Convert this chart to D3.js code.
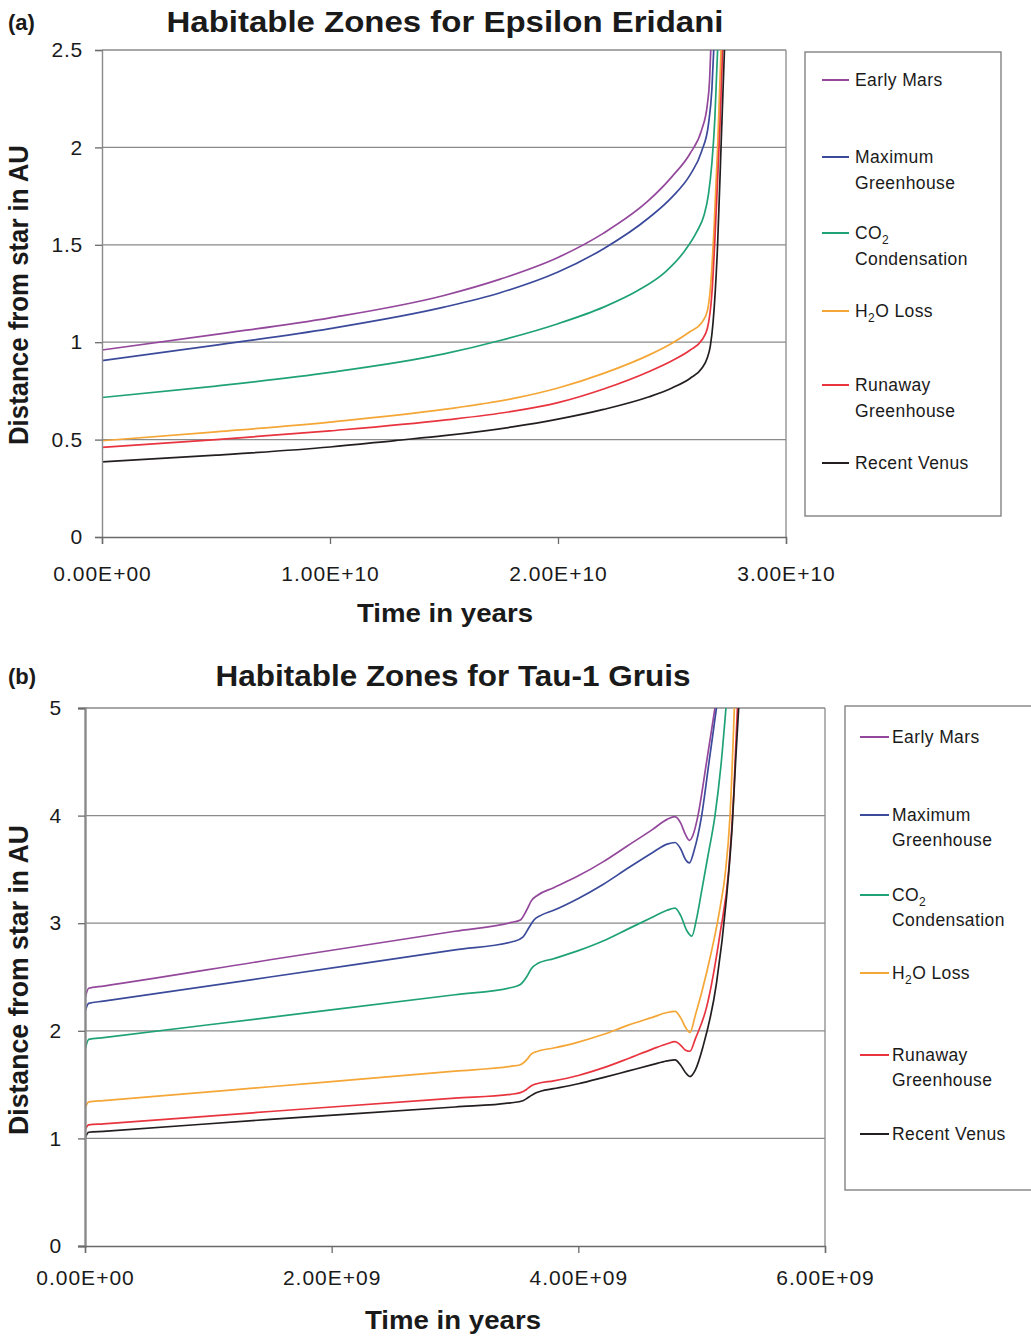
<!DOCTYPE html>
<html>
<head>
<meta charset="utf-8">
<script src="https://cdn.jsdelivr.net/npm/d3@7"></script>
<style>
  html, body { margin: 0; padding: 0; background: #fff; }
  svg { display: block; }
  text { font-family: "Liberation Sans", Arial, Helvetica, sans-serif; fill: #1a1a1a; }
</style>
</head>
<body>
<svg id="chart" width="1031" height="1336"></svg>
<script>
// ---------------- DATA ----------------
const seriesNames = ["Early Mars", "Maximum Greenhouse", "CO2 Condensation", "H2O Loss", "Runaway Greenhouse", "Recent Venus"];
const seriesColors = ["#94489c", "#3c4a9b", "#1fa275", "#f4a636", "#e8343f", "#231f20"];

// Panel (a): Epsilon Eridani  [time in years, distance in AU]
const epsEarlyMars = [[0,0.96],[0.5e10,1.04],[1.0e10,1.125],[1.5e10,1.24],[1.75e10,1.325],[2.0e10,1.435],[2.2e10,1.56],[2.4e10,1.73],[2.5e10,1.85],[2.58e10,1.97],[2.63e10,2.09],[2.655e10,2.22],[2.665e10,2.35],[2.67e10,2.5]];
const epsMaxGreenhouse = [[0,0.905],[0.5e10,0.985],[1.0e10,1.07],[1.5e10,1.18],[1.75e10,1.255],[2.0e10,1.36],[2.2e10,1.48],[2.4e10,1.64],[2.5e10,1.745],[2.58e10,1.86],[2.63e10,1.98],[2.66e10,2.12],[2.675e10,2.3],[2.683e10,2.5]];
const epsCO2 = [[0,0.716],[0.5e10,0.775],[1.0e10,0.845],[1.5e10,0.94],[1.75e10,1.01],[2.0e10,1.095],[2.2e10,1.18],[2.35e10,1.265],[2.47e10,1.36],[2.55e10,1.46],[2.61e10,1.57],[2.64e10,1.65],[2.66e10,1.76],[2.675e10,1.92],[2.688e10,2.15],[2.70e10,2.5]];
const epsH2OLoss = [[0,0.494],[0.5e10,0.54],[1.0e10,0.59],[1.5e10,0.655],[1.8e10,0.71],[2.0e10,0.765],[2.2e10,0.84],[2.4e10,0.935],[2.5e10,0.995],[2.58e10,1.055],[2.63e10,1.10],[2.655e10,1.16],[2.67e10,1.3],[2.685e10,1.6],[2.70e10,2.0],[2.715e10,2.5]];
const epsRunaway = [[0,0.46],[0.5e10,0.50],[1.0e10,0.545],[1.5e10,0.60],[1.8e10,0.645],[2.0e10,0.69],[2.2e10,0.76],[2.4e10,0.85],[2.5e10,0.905],[2.58e10,0.96],[2.63e10,1.01],[2.655e10,1.07],[2.675e10,1.25],[2.695e10,1.7],[2.71e10,2.1],[2.722e10,2.5]];
const epsVenus = [[0,0.386],[0.5e10,0.42],[1.0e10,0.462],[1.285e10,0.495],[1.5e10,0.52],[1.8e10,0.565],[2.0e10,0.605],[2.2e10,0.655],[2.4e10,0.72],[2.5e10,0.765],[2.58e10,0.815],[2.63e10,0.865],[2.655e10,0.92],[2.668e10,0.98],[2.68e10,1.1],[2.70e10,1.5],[2.715e10,2.0],[2.73e10,2.5]];

// Panel (b): Tau-1 Gruis
const tauEarlyMars = [[0,2.30],[0.03e9,2.395],[0.15e9,2.415],[1.5e9,2.66],[3.0e9,2.925],[3.45e9,3.005],[3.53e9,3.03],[3.58e9,3.12],[3.62e9,3.21],[3.67e9,3.26],[3.8e9,3.33],[4.0e9,3.44],[4.2e9,3.57],[4.4e9,3.72],[4.6e9,3.87],[4.72e9,3.965],[4.784e9,3.99],[4.83e9,3.93],[4.87e9,3.82],[4.9e9,3.77],[4.93e9,3.82],[4.97e9,4.0],[5.04e9,4.5],[5.108e9,5.0]];
const tauMaxGreenhouse = [[0,2.18],[0.03e9,2.255],[0.15e9,2.275],[1.5e9,2.50],[3.0e9,2.752],[3.48e9,2.832],[3.55e9,2.87],[3.6e9,2.96],[3.64e9,3.03],[3.7e9,3.075],[3.8e9,3.12],[4.0e9,3.23],[4.2e9,3.36],[4.4e9,3.51],[4.6e9,3.655],[4.72e9,3.735],[4.784e9,3.75],[4.83e9,3.69],[4.87e9,3.59],[4.9e9,3.56],[4.94e9,3.68],[5.0e9,4.0],[5.06e9,4.5],[5.12e9,5.0]];
const tauCO2 = [[0,1.82],[0.03e9,1.92],[0.15e9,1.937],[1.5e9,2.125],[3.0e9,2.335],[3.45e9,2.40],[3.53e9,2.43],[3.58e9,2.50],[3.62e9,2.58],[3.67e9,2.625],[3.8e9,2.67],[4.0e9,2.745],[4.2e9,2.835],[4.4e9,2.945],[4.6e9,3.055],[4.72e9,3.12],[4.784e9,3.14],[4.83e9,3.07],[4.88e9,2.93],[4.92e9,2.88],[4.96e9,3.05],[5.0e9,3.3],[5.05e9,3.62],[5.108e9,4.0],[5.155e9,4.45],[5.197e9,5.0]];
const tauH2OLoss = [[0,1.28],[0.03e9,1.34],[0.15e9,1.351],[1.5e9,1.48],[3.0e9,1.625],[3.45e9,1.67],[3.53e9,1.685],[3.58e9,1.73],[3.62e9,1.785],[3.67e9,1.81],[3.8e9,1.84],[4.0e9,1.895],[4.2e9,1.965],[4.4e9,2.05],[4.6e9,2.125],[4.72e9,2.17],[4.784e9,2.18],[4.83e9,2.12],[4.87e9,2.03],[4.905e9,1.985],[4.95e9,2.15],[5.04e9,2.54],[5.15e9,3.15],[5.19e9,3.45],[5.23e9,4.0],[5.265e9,5.0]];
const tauRunaway = [[0,1.08],[0.03e9,1.125],[0.15e9,1.135],[1.5e9,1.25],[3.0e9,1.375],[3.45e9,1.41],[3.53e9,1.425],[3.58e9,1.455],[3.62e9,1.49],[3.67e9,1.51],[3.8e9,1.535],[4.0e9,1.585],[4.2e9,1.655],[4.4e9,1.74],[4.6e9,1.83],[4.72e9,1.88],[4.784e9,1.90],[4.83e9,1.865],[4.87e9,1.82],[4.905e9,1.81],[4.95e9,1.93],[5.04e9,2.22],[5.15e9,2.91],[5.22e9,3.5],[5.26e9,4.2],[5.29e9,5.0]];
const tauVenus = [[0,1.0],[0.03e9,1.057],[0.15e9,1.066],[1.5e9,1.177],[3.0e9,1.292],[3.45e9,1.33],[3.55e9,1.35],[3.6e9,1.385],[3.65e9,1.42],[3.7e9,1.44],[3.8e9,1.462],[4.0e9,1.508],[4.2e9,1.565],[4.4e9,1.625],[4.6e9,1.685],[4.72e9,1.72],[4.784e9,1.73],[4.83e9,1.68],[4.87e9,1.61],[4.905e9,1.575],[4.95e9,1.64],[5.01e9,1.85],[5.12e9,2.44],[5.20e9,3.22],[5.25e9,3.95],[5.275e9,4.5],[5.30e9,5.0]];

// Tick values and labels
const epsXTicks = [0, 1e10, 2e10, 3e10];
const epsXTickLabels = ["0.00E+00", "1.00E+10", "2.00E+10", "3.00E+10"];
const epsYTicks = [0, 0.5, 1, 1.5, 2, 2.5];
const epsYTickLabels = ["0", "0.5", "1", "1.5", "2", "2.5"];
const tauXTicks = [0, 2e9, 4e9, 6e9];
const tauXTickLabels = ["0.00E+00", "2.00E+09", "4.00E+09", "6.00E+09"];
const tauYTicks = [0, 1, 2, 3, 4, 5];
const tauYTickLabels = ["0", "1", "2", "3", "4", "5"];

// Legend label markup: lines of [text, isSubscript] runs
const legendLabels = [
  [[["Early Mars", false]]],
  [[["Maximum", false]], [["Greenhouse", false]]],
  [[["CO", false], ["2", true]], [["Condensation", false]]],
  [[["H", false], ["2", true], ["O Loss", false]]],
  [[["Runaway", false]], [["Greenhouse", false]]],
  [[["Recent Venus", false]]]
];

// ---------------- LAYOUT ----------------
const panels = [
  {
    tag: "(a)", title: "Habitable Zones for Epsilon Eridani", titleX: 445, titleLen: 557, titleY: 32,
    xDomain: [0, 3e10], xRange: [102, 786], yDomain: [0, 2.5], yRange: [537, 50],
    series: [epsEarlyMars, epsMaxGreenhouse, epsCO2, epsH2OLoss, epsRunaway, epsVenus],
    xTicks: epsXTicks, xLabels: epsXTickLabels, yTicks: epsYTicks, yLabels: epsYTickLabels,
    xLabelY: 580, yLabelX: 83, tickLen: 7, leftAxisW: 1.4,
    xTitleY: 622, xTitleX: 445, yTitleCY: 295, yTitleLen: 300,
    legend: { x: 805, y: 52, w: 196, h: 464, swX1: 822, swX2: 849, textX: 855, rows: [80, 157, 233, 311, 385, 463], lineGap: 26 }
  },
  {
    tag: "(b)", title: "Habitable Zones for Tau-1 Gruis", titleX: 453, titleLen: 475, titleY: 686,
    xDomain: [0, 6e9], xRange: [85, 825], yDomain: [0, 5], yRange: [1246, 708],
    series: [tauEarlyMars, tauMaxGreenhouse, tauCO2, tauH2OLoss, tauRunaway, tauVenus],
    xTicks: tauXTicks, xLabels: tauXTickLabels, yTicks: tauYTicks, yLabels: tauYTickLabels,
    xLabelY: 1284, yLabelX: 62, tickLen: 7, leftAxisW: 2.4,
    xTitleY: 1329, xTitleX: 453, yTitleCY: 980, yTitleLen: 310,
    legend: { x: 845, y: 706, w: 200, h: 484, swX1: 860, swX2: 889, textX: 892, rows: [737, 815, 895, 973, 1055, 1134], lineGap: 25 }
  }
];

const svg = d3.select("#chart");

panels.forEach((p, pi) => {
  const x = d3.scaleLinear().domain(p.xDomain).range(p.xRange);
  const y = d3.scaleLinear().domain(p.yDomain).range(p.yRange);
  const g = svg.append("g");
  const [x0, x1] = p.xRange;
  const [yb, yt] = p.yRange;

  // Gridlines (horizontal)
  g.append("g").selectAll("line").data(p.yTicks.filter(v => v > 0)).join("line")
    .attr("x1", x0).attr("x2", x1)
    .attr("y1", d => y(d)).attr("y2", d => y(d))
    .attr("stroke", "#8a8a8a").attr("stroke-width", 1.3);

  // Right frame
  g.append("line").attr("x1", x1).attr("x2", x1).attr("y1", yt).attr("y2", yb)
    .attr("stroke", "#8a8a8a").attr("stroke-width", 1.3);

  // Series lines
  const clipId = "clip" + pi;
  svg.append("defs").append("clipPath").attr("id", clipId)
    .append("rect").attr("x", x0).attr("y", yt - 1).attr("width", x1 - x0).attr("height", yb - yt + 1);
  const line = d3.line().x(d => x(d[0])).y(d => y(d[1])).curve(d3.curveMonotoneX);
  g.append("g").attr("clip-path", `url(#${clipId})`)
    .selectAll("path").data(p.series).join("path")
    .attr("d", line)
    .attr("fill", "none")
    .attr("stroke", (d, i) => seriesColors[i])
    .attr("stroke-width", 1.7)
    .attr("stroke-linejoin", "round");

  // Y axis
  const yAxis = d3.axisLeft(y).tickValues(p.yTicks).tickSize(p.tickLen).tickPadding(x0 - p.tickLen - p.yLabelX)
    .tickFormat((d, i) => p.yLabels[i]);
  const ya = g.append("g").attr("transform", `translate(${x0},0)`).call(yAxis);
  ya.select(".domain").attr("stroke", "#8a8a8a").attr("stroke-width", p.leftAxisW);
  ya.selectAll(".tick line").attr("stroke", "#6a6a6a").attr("stroke-width", 1.3);
  ya.selectAll(".tick text").attr("font-size", 21).attr("fill", "#1a1a1a").attr("letter-spacing", 0.8)
    .attr("font-family", "'Liberation Sans', Arial, sans-serif");

  // X axis
  const xAxis = d3.axisBottom(x).tickValues(p.xTicks).tickSize(p.tickLen).tickPadding(p.xLabelY - yb - p.tickLen - 14)
    .tickFormat((d, i) => p.xLabels[i]);
  const xa = g.append("g").attr("transform", `translate(0,${yb})`).call(xAxis);
  xa.select(".domain").attr("stroke", "#6a6a6a").attr("stroke-width", 1.4);
  xa.selectAll(".tick line").attr("stroke", "#6a6a6a").attr("stroke-width", 1.3);
  xa.selectAll(".tick text").attr("font-size", 21).attr("fill", "#1a1a1a").attr("letter-spacing", 1)
    .attr("font-family", "'Liberation Sans', Arial, sans-serif");

  // Panel tag
  g.append("text").attr("x", 8).attr("y", p.titleY - 2).text(p.tag)
    .attr("font-size", 22).attr("font-weight", "bold");

  // Title
  g.append("text").attr("x", p.titleX).attr("y", p.titleY).text(p.title)
    .attr("text-anchor", "middle").attr("font-size", 30).attr("font-weight", "bold")
    .attr("textLength", p.titleLen).attr("lengthAdjust", "spacingAndGlyphs");

  // X title
  g.append("text").attr("x", p.xTitleX).attr("y", p.xTitleY).text("Time in years")
    .attr("text-anchor", "middle").attr("font-size", 26).attr("font-weight", "bold")
    .attr("textLength", 176).attr("lengthAdjust", "spacingAndGlyphs");

  // Y title
  g.append("text")
    .attr("transform", `translate(28,${p.yTitleCY}) rotate(-90)`)
    .text("Distance from star in AU")
    .attr("text-anchor", "middle").attr("font-size", 27).attr("font-weight", "bold")
    .attr("font-family", "'Liberation Sans Narrow', 'DejaVu Sans Condensed', Arial, sans-serif")
    .attr("textLength", p.yTitleLen).attr("lengthAdjust", "spacingAndGlyphs");

  // Legend
  const L = p.legend;
  g.append("rect").attr("x", L.x).attr("y", L.y).attr("width", L.w).attr("height", L.h)
    .attr("fill", "#fff").attr("stroke", "#8a8a8a").attr("stroke-width", 1.5);
  legendLabels.forEach((lines, i) => {
    const ry = L.rows[i];
    g.append("line").attr("x1", L.swX1).attr("x2", L.swX2).attr("y1", ry).attr("y2", ry)
      .attr("stroke", seriesColors[i]).attr("stroke-width", 2);
    lines.forEach((runs, li) => {
      const t = g.append("text").attr("x", L.textX).attr("y", ry + 6 + li * L.lineGap)
        .attr("font-size", 17.5).attr("letter-spacing", 0.4);
      runs.forEach(([txt, sub]) => {
        if (sub) {
          t.append("tspan").text(txt).attr("font-size", 12).attr("dy", 5);
        } else {
          const ts = t.append("tspan").text(txt);
          if (t.selectAll("tspan").size() > 1) ts.attr("dy", -5);
        }
      });
    });
  });
});
</script>
</body>
</html>
